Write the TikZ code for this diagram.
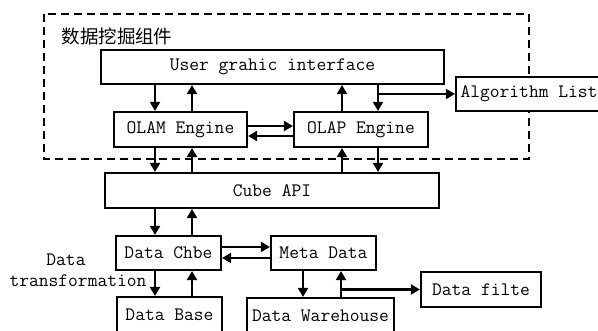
\documentclass[tikz,border=0pt]{standalone}
\usepackage{fontspec}
\newfontfamily\cjk{Noto Sans CJK SC}
\usetikzlibrary{arrows.meta}
\begin{document}
\begin{tikzpicture}[x=1pt,y=-1pt,
  box/.style={draw, line width=2.1pt, fill=white, inner sep=0pt,
    font=\ttfamily\fontsize{19}{21}\selectfont},
  lbl/.style={inner sep=0pt, font=\ttfamily\fontsize{19}{21}\selectfont},
  arr/.style={line width=2.1pt, -{Triangle[length=9pt,width=10pt]}},
  frame/.style={line width=2.5pt, dash pattern=on 8pt off 5pt}]
\useasboundingbox (0,0) rectangle (598,331);
\clip (0,0) rectangle (598,331);
% dashed component frame
\draw[frame] (44,14) rectangle (529,159);
\node[inner sep=0pt, font=\cjk\fontsize{18.5}{20}\selectfont] (title) at (117,36) {数据挖掘组件};
% boxes
\node[box, minimum width=343pt, minimum height=34pt] (ugi) at (272.5,67) {User grahic interface};
\node[box, minimum width=146pt, minimum height=34pt] (alg) at (529,94) {Algorithm List};
\node[box, minimum width=133pt, minimum height=35pt] (olam) at (180.5,129.5) {OLAM Engine};
\node[box, minimum width=134pt, minimum height=35pt] (olap) at (361,129.5) {OLAP Engine};
\node[box, minimum width=334pt, minimum height=35pt] (cube) at (272,190.5) {Cube API};
\node[box, minimum width=105pt, minimum height=34pt] (chbe) at (168.5,253) {Data Chbe};
\node[box, minimum width=105pt, minimum height=34pt] (meta) at (323.5,253) {Meta Data};
\node[box, minimum width=105pt, minimum height=36pt] (base) at (169.5,315) {Data Base};
\node[box, minimum width=147pt, minimum height=36pt] (ware) at (320.5,316) {Data Warehouse};
\node[box, minimum width=120pt, minimum height=35pt] (filte) at (481,289.5) {Data filte};
\node[lbl] (dt1) at (66,260) {Data};
\node[lbl] (dt2) at (78,281) {transformation};
% x positions of vertical connectors
\coordinate (xa) at (155,0);
\coordinate (xb) at (192,0);
\coordinate (xc) at (342,0);
\coordinate (xd) at (378,0);
\coordinate (xe) at (303,0);
\coordinate (xf) at (341,0);
% y positions of horizontal connectors
\coordinate (ya) at (0,126);
\coordinate (yb) at (0,136);
\coordinate (yc) at (0,247);
\coordinate (yd) at (0,258);
% UGI <-> OLAM / OLAP
\draw[arr] (ugi.south -| xa) -- (olam.north -| xa);
\draw[arr] (olam.north -| xb) -- (ugi.south -| xb);
\draw[arr] (olap.north -| xc) -- (ugi.south -| xc);
\draw[arr] (ugi.south -| xd) -- (olap.north -| xd);
\draw[arr] (alg.west -| xd) -- (alg.west);
% OLAM <-> OLAP
\draw[arr] (olam.east |- ya) -- (olap.west |- ya);
\draw[arr] (olap.west |- yb) -- (olam.east |- yb);
% engines <-> cube
\draw[arr] (olam.south -| xa) -- (cube.north -| xa);
\draw[arr] (cube.north -| xb) -- (olam.south -| xb);
\draw[arr] (cube.north -| xc) -- (olap.south -| xc);
\draw[arr] (olap.south -| xd) -- (cube.north -| xd);
% cube <-> chbe
\draw[arr] (cube.south -| xa) -- (chbe.north -| xa);
\draw[arr] (chbe.north -| xb) -- (cube.south -| xb);
% chbe <-> meta
\draw[arr] (chbe.east |- yc) -- (meta.west |- yc);
\draw[arr] (meta.west |- yd) -- (chbe.east |- yd);
% chbe <-> base
\draw[arr] (chbe.south -| xa) -- (base.north -| xa);
\draw[arr] (base.north -| xb) -- (chbe.south -| xb);
% meta <-> warehouse, filte
\draw[arr] (meta.south -| xe) -- (ware.north -| xe);
\draw[arr] (ware.north -| xf) -- (meta.south -| xf);
\draw[arr] (filte.west -| xf) -- (filte.west);
\end{tikzpicture}
\end{document}
